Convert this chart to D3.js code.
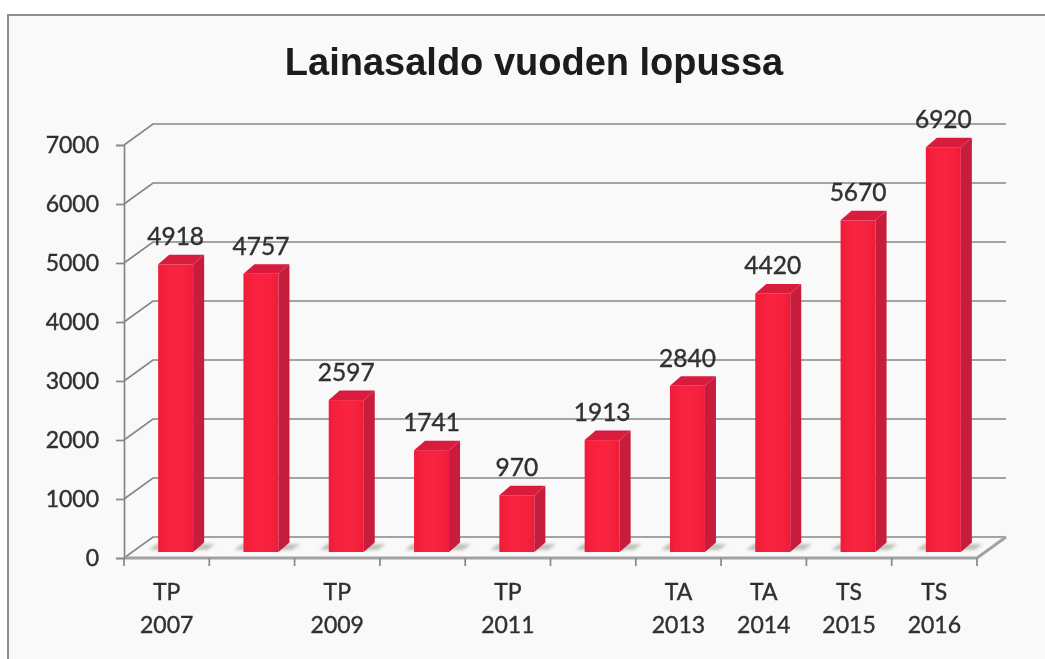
<!DOCTYPE html>
<html><head><meta charset="utf-8">
<script src="https://cdn.jsdelivr.net/npm/d3@7"></script>
<style>
html,body{margin:0;padding:0;background:#fff;overflow:hidden}
svg{display:block}
</style></head><body>
<svg id="c" width="1045" height="659"></svg>
<script>
const titleText = "Lainasaldo vuoden lopussa";
const categories = ["2007","2008","2009","2010","2011","2012","2013","2014","2015","2016"];
const values = [4918,4757,2597,1741,970,1913,2840,4420,5670,6920];
const labelTop = ["TP","","TP","","TP","","TA","TA","TS","TS"];
const labelBottom = ["2007","","2009","","2011","","2013","2014","2015","2016"];
const yTicks = [0,1000,2000,3000,4000,5000,6000,7000];

const svg = d3.select("#c");
const defs = svg.append("defs");
const blur = defs.append("filter").attr("id","soft");
blur.append("feGaussianBlur").attr("stdDeviation",0.6);
const sh = defs.append("filter").attr("id","sh").attr("x","-20%").attr("y","-50%").attr("width","140%").attr("height","200%");
sh.append("feGaussianBlur").attr("stdDeviation",1.8);
const grad = defs.append("linearGradient").attr("id","front").attr("x1",0).attr("x2",1).attr("y1",0).attr("y2",0);
grad.append("stop").attr("offset",0).attr("stop-color","#f01e3a");
grad.append("stop").attr("offset",0.5).attr("stop-color","#fb2340");
grad.append("stop").attr("offset",1).attr("stop-color","#f01e3a");

// paper and frame
svg.append("rect").attr("width",1045).attr("height",659).attr("fill","#ffffff");
svg.append("rect").attr("x",8).attr("y",15).attr("width",1037).attr("height",644).attr("fill","#f9f9fa");
svg.append("path").attr("d","M8,659V15H1045").attr("fill","none").attr("stroke","#8d8d8d").attr("stroke-width",2);

const g = svg.append("g").attr("filter","url(#soft)");

const font = "Lato, 'Open Sans', sans-serif";
const textCol = "#303030";
const lineCol = "#868686";

const x = d3.scaleBand().domain(categories).range([124,977]);
const y = d3.scaleLinear().domain([0,7000]).range([558,145]);
const yBar = d3.scaleLinear().domain([0,7000]).range([552,142.5]);
const dx = 29, dy = -21;       // depth of the wall
const bdx = 11, bdy = -9.5;    // depth of one bar

// title
g.append("text").attr("x",534).attr("y",75).attr("text-anchor","middle")
  .attr("font-family","'Liberation Sans', Arial, sans-serif").attr("font-weight",700)
  .attr("font-size",38).attr("fill","#1a1a1a").text(titleText);

// gridlines: side wall diagonal, back wall horizontal
const grid = g.append("g").attr("fill","none").attr("stroke",lineCol).attr("stroke-width",1.7);
grid.selectAll("path").data(yTicks).join("path")
  .attr("d",v=>`M124,${y(v)}L${124+dx},${y(v)+dy}H${977+dx}`);

// floor
g.append("path").attr("d",`M124,${y(0)}H977L${977+dx},${y(0)+dy}`)
  .attr("fill","none").attr("stroke","#a2a2a2").attr("stroke-width",3);

// left axis through d3.axisLeft
const axL = g.append("g").attr("transform","translate(124,0)")
  .call(d3.axisLeft(y).tickValues(yTicks).tickSize(8).tickPadding(17).tickFormat(d3.format("d")));
axL.select(".domain").attr("stroke",lineCol).attr("stroke-width",1.7);
axL.selectAll(".tick line").attr("stroke",lineCol).attr("stroke-width",1.7);
axL.selectAll("text").attr("font-family",font).attr("font-size",23).attr("fill",textCol)
  .attr("stroke",textCol).attr("stroke-width",0.4);

// bottom tick marks on band edges
const edges = categories.map(c=>x(c)).concat([x.range()[1]]);
g.append("g").selectAll("line").data(edges).join("line")
  .attr("x1",d=>d).attr("x2",d=>d).attr("y1",y(0)).attr("y2",y(0)+8)
  .attr("stroke",lineCol).attr("stroke-width",1.7);

// bars
const bw = 35;
const left = c => x(c)+x.bandwidth()/2+9-bw/2;
const bars = g.append("g").selectAll("g").data(categories.map((c,i)=>({c,v:values[i]}))).join("g");
bars.append("path").attr("filter","url(#sh)").attr("fill","#b4b4aa").attr("opacity",0.8)
  .attr("d",d=>{const l=left(d.c),b=yBar(0);return `M${l-9},${b-2}L${l-2},${b-8}H${l+bw+22}L${l+bw+14},${b-2}Z`;});
bars.append("rect").attr("x",d=>left(d.c)).attr("y",d=>yBar(d.v))
  .attr("width",bw).attr("height",d=>yBar(0)-yBar(d.v)).attr("fill","url(#front)");
bars.append("path").attr("fill","#c71a3b")
  .attr("d",d=>{const r=left(d.c)+bw,t=yBar(d.v),b=yBar(0);return `M${r},${t}L${r+bdx},${t+bdy}V${b+bdy}L${r},${b}Z`;});
bars.append("path").attr("fill","#d91c3c")
  .attr("d",d=>{const l=left(d.c),t=yBar(d.v);return `M${l},${t}L${l+bdx},${t+bdy}H${l+bw+bdx}L${l+bw},${t}Z`;});
bars.append("text").attr("x",d=>left(d.c)+bw/2).attr("y",d=>yBar(d.v)-19).attr("text-anchor","middle")
  .attr("font-family",font).attr("font-size",24.5).attr("fill",textCol)
  .attr("stroke",textCol).attr("stroke-width",0.4).text(d=>d.v);

// category labels
const cat = g.append("g").attr("font-family",font).attr("font-size",23).attr("fill",textCol)
  .attr("stroke",textCol).attr("stroke-width",0.4).attr("text-anchor","middle");
cat.selectAll(".t").data(categories).join("text").attr("class","t")
  .attr("x",c=>x(c)+x.bandwidth()/2).attr("y",600).text((c,i)=>labelTop[i]);
cat.selectAll(".b").data(categories).join("text").attr("class","b")
  .attr("x",c=>x(c)+x.bandwidth()/2).attr("y",633).text((c,i)=>labelBottom[i]);
</script>
</body></html>
